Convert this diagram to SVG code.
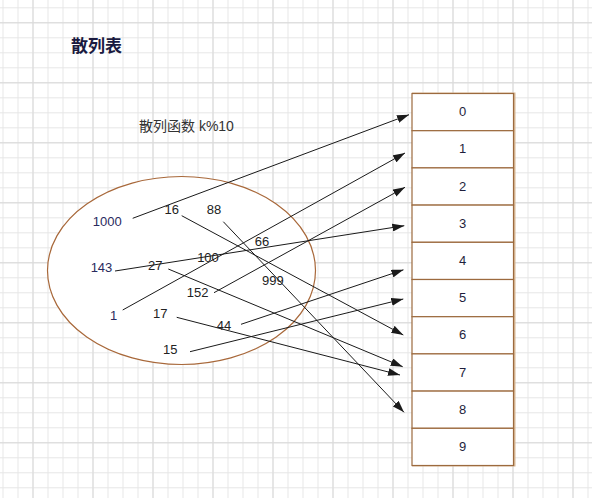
<svg xmlns="http://www.w3.org/2000/svg" width="592" height="498" viewBox="0 0 592 498">
<defs>
<pattern id="minor" width="15" height="15" patternUnits="userSpaceOnUse" x="2.5" y="7.3">
<path d="M0 0.5H15M0.5 0V15" fill="none" stroke="#e6e6e6" stroke-width="1"/>
</pattern>
<pattern id="major" width="60" height="60" patternUnits="userSpaceOnUse" x="32.5" y="22.3">
<path d="M0 0.5H60M0.5 0V60" fill="none" stroke="#d9d9d9" stroke-width="1"/>
</pattern>
<marker id="arr" viewBox="0 0 12 8" refX="12" refY="4" markerWidth="12" markerHeight="8" markerUnits="userSpaceOnUse" orient="auto">
<path d="M0 0L12 4L0 8Z" fill="#1a1a1a"/>
</marker>
</defs>
<style>
.num{font-family:"Liberation Sans",Arial,sans-serif;font-size:13px;fill:#222;text-anchor:middle}
.navy{fill:#2a2a5e}
.cell{fill:#fff;stroke:#9c6a3e;stroke-width:1.2}
.cellt{font-family:"Liberation Sans",Arial,sans-serif;font-size:13px;fill:#1e1e3c;text-anchor:middle}
.conn line{stroke:#1a1a1a;stroke-width:1;marker-end:url(#arr)}
</style>
<rect width="592" height="498" fill="#fff"/>
<rect width="592" height="498" fill="url(#minor)"/>
<rect width="592" height="498" fill="url(#major)"/>

<g id="title"><text x="71" y="51.5" style="font-family:'Noto Sans CJK SC',sans-serif;font-size:17px;font-weight:bold;fill:#1a1a40">散列表</text></g>
<g id="hashfn"><text x="139" y="130.5" style="font-family:'Liberation Sans','Noto Sans CJK SC',sans-serif;font-size:14px;fill:#333">散列函数 k%10</text></g>

<g id="set"><ellipse cx="181.5" cy="270.5" rx="134" ry="94" fill="#fff" stroke="#a8683a" stroke-width="1.2"/></g>

<g id="table">
<rect x="412" y="93.5" width="101.5" height="372" fill="#fff" stroke="#d8b896" stroke-width="2" transform="translate(1,0)"/>
<g id="cell0"><rect class="cell" x="412" y="93.5" width="101.5" height="37.2"/><text class="cellt" x="462.5" y="116">0</text></g>
<g id="cell1"><rect class="cell" x="412" y="130.7" width="101.5" height="37.2"/><text class="cellt" x="462.5" y="153.3">1</text></g>
<g id="cell2"><rect class="cell" x="412" y="167.9" width="101.5" height="37.2"/><text class="cellt" x="462.5" y="190.5">2</text></g>
<g id="cell3"><rect class="cell" x="412" y="205.1" width="101.5" height="37.2"/><text class="cellt" x="462.5" y="227.7">3</text></g>
<g id="cell4"><rect class="cell" x="412" y="242.3" width="101.5" height="37.2"/><text class="cellt" x="462.5" y="264.9">4</text></g>
<g id="cell5"><rect class="cell" x="412" y="279.5" width="101.5" height="37.2"/><text class="cellt" x="462.5" y="302.1">5</text></g>
<g id="cell6"><rect class="cell" x="412" y="316.7" width="101.5" height="37.2"/><text class="cellt" x="462.5" y="339.3">6</text></g>
<g id="cell7"><rect class="cell" x="412" y="353.9" width="101.5" height="37.2"/><text class="cellt" x="462.5" y="376.5">7</text></g>
<g id="cell8"><rect class="cell" x="412" y="391.1" width="101.5" height="37.2"/><text class="cellt" x="462.5" y="413.7">8</text></g>
<g id="cell9"><rect class="cell" x="412" y="428.3" width="101.5" height="37.2"/><text class="cellt" x="462.5" y="450.9">9</text></g>
</g>

<g id="connectors" class="conn">
<line x1="132.7" y1="218.3" x2="409" y2="114.7"/>
<line x1="181.7" y1="215.7" x2="403.3" y2="335"/>
<line x1="223.3" y1="221.7" x2="404" y2="412.3"/>
<line x1="115" y1="271" x2="404.3" y2="225.7"/>
<line x1="122.7" y1="310" x2="405" y2="153"/>
<line x1="214" y1="292.7" x2="405" y2="187.3"/>
<line x1="168.3" y1="269" x2="402.7" y2="366.7"/>
<line x1="176.7" y1="317.3" x2="400" y2="375"/>
<line x1="241" y1="324.3" x2="403.5" y2="269.8"/>
<line x1="190" y1="351.7" x2="403.3" y2="299"/>
</g>

<g id="n1000"><text class="num navy" x="107.2" y="225.6">1000</text></g>
<g id="n16"><text class="num" x="171.8" y="213.9">16</text></g>
<g id="n88"><text class="num" x="214" y="213.9">88</text></g>
<g id="n66"><text class="num" x="262" y="245.6">66</text></g>
<g id="n100"><text class="num" x="208" y="262.3">100</text></g>
<g id="n143"><text class="num navy" x="101.5" y="271.6">143</text></g>
<g id="n27"><text class="num" x="155.2" y="270.3">27</text></g>
<g id="n999"><text class="num" x="272.8" y="284.6">999</text></g>
<g id="n152"><text class="num" x="197.7" y="296.9">152</text></g>
<g id="n1"><text class="num navy" x="113.5" y="319.9">1</text></g>
<g id="n17"><text class="num" x="160.2" y="317.9">17</text></g>
<g id="n44"><text class="num" x="224" y="329.9">44</text></g>
<g id="n15"><text class="num" x="170.3" y="353.9">15</text></g>
</svg>
